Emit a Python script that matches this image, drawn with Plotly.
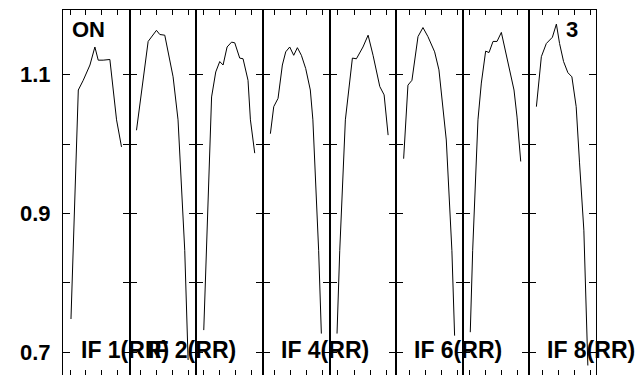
import plotly.graph_objects as go
from plotly.subplots import make_subplots

# channel offsets (tick units) and normalised bandpass per IF
x_if1 = [0.06, 0.52, 0.83, 1.25, 1.56, 1.77, 2.08, 2.5, 2.92, 3.23]
v_if1 = [0.748, 1.078, 1.092, 1.114, 1.140, 1.121, 1.121, 1.122, 1.035, 0.996]

x_if2 = [-0.27, 0.46, 0.98, 1.19, 1.5, 2.02, 2.33, 2.75, 2.96]
v_if2 = [1.020, 1.148, 1.164, 1.158, 1.157, 1.097, 1.035, 0.847, 0.689]

x_if3 = [0.04, 0.53, 0.79, 1.04, 1.25, 1.5, 1.78, 1.98, 2.29, 2.5, 2.81, 2.96, 3.23]
v_if3 = [0.732, 1.068, 1.104, 1.119, 1.114, 1.140, 1.147, 1.146, 1.124, 1.123, 1.092, 1.035, 0.987]

x_if4 = [-0.27, -0.06, 0.21, 0.48, 0.69, 0.94, 1.19, 1.42, 1.67, 1.94, 2.23, 2.39, 2.75, 2.92]
v_if4 = [1.015, 1.054, 1.066, 1.114, 1.133, 1.140, 1.128, 1.139, 1.128, 1.109, 1.078, 1.035, 0.847, 0.727]

x_if5 = [-0.06, 0.11, 0.46, 0.9, 1.15, 1.56, 1.88, 2.19, 2.61, 2.88, 3.13]
v_if5 = [0.727, 0.847, 1.035, 1.124, 1.123, 1.140, 1.157, 1.128, 1.083, 1.071, 1.013]

x_if6 = [-0.38, -0.11, 0.14, 0.52, 0.83, 1.14, 1.56, 1.83, 2.29, 2.5, 2.64, 2.81]
v_if6 = [0.979, 1.085, 1.092, 1.155, 1.168, 1.155, 1.133, 1.107, 1.006, 0.905, 0.847, 0.724]

x_if7 = [0.04, 0.19, 0.52, 0.73, 1.0, 1.21, 1.46, 1.71, 1.98, 2.19, 2.5, 2.77, 2.96, 3.19]
v_if7 = [0.729, 0.847, 1.035, 1.088, 1.134, 1.132, 1.148, 1.148, 1.161, 1.140, 1.109, 1.078, 1.039, 0.975]

x_if8 = [-0.41, -0.1, 0.21, 0.59, 0.84, 1.04, 1.29, 1.56, 1.81, 2.08, 2.29, 2.56, 2.81]
v_if8 = [1.054, 1.126, 1.145, 1.154, 1.173, 1.145, 1.119, 1.103, 1.097, 1.054, 0.973, 0.876, 0.681]

panel_labels = ["IF 1(RR)", "IF 2(RR)", "", "IF 4(RR)", "", "IF 6(RR)", "", "IF 8(RR)"]
y_ticks = [0.7, 0.8, 0.9, 1.0, 1.1]
y_ticktext = ["0.7", "", "0.9", "", "1.1"]

xs = [x_if1, x_if2, x_if3, x_if4, x_if5, x_if6, x_if7, x_if8]
vs = [v_if1, v_if2, v_if3, v_if4, v_if5, v_if6, v_if7, v_if8]
x_ranges = [[-0.44, 3.74], [-0.70, 3.47], [-0.43, 3.74], [-0.74, 3.43],
            [-0.53, 3.63], [-0.85, 3.32], [-0.43, 3.73], [-0.85, 3.32]]

FONT = "Liberation Sans, Arial, sans-serif"

fig = make_subplots(rows=1, cols=8, shared_yaxes=True, horizontal_spacing=0)

for i in range(8):
    fig.add_trace(go.Scatter(x=xs[i], y=vs[i], mode="lines",
                             line=dict(color="black", width=1),
                             showlegend=False, hoverinfo="skip"),
                  row=1, col=i + 1)
    fig.update_xaxes(range=x_ranges[i], tick0=0, dtick=1, ticks="inside",
                     ticklen=5, tickcolor="black", showticklabels=False,
                     showline=True, linecolor="black", linewidth=1,
                     mirror="ticks", showgrid=False, zeroline=False,
                     automargin=False, row=1, col=i + 1)
    fig.update_yaxes(range=[0.6673, 1.1933], tickvals=y_ticks, ticktext=y_ticktext,
                     ticks="inside", ticklen=7, tickcolor="black",
                     showticklabels=(i == 0), showline=True, linecolor="black",
                     linewidth=1, mirror="ticks", showgrid=False, zeroline=False,
                     automargin=False, row=1, col=i + 1)
    if panel_labels[i]:
        fig.add_annotation(text="<b>%s</b>" % panel_labels[i],
                           xref="x%s domain" % ("" if i == 0 else i + 1),
                           yref="y", x=0.24, y=0.704, xanchor="left",
                           yanchor="middle", showarrow=False,
                           font=dict(family=FONT, size=23, color="black"))

fig.add_annotation(text="<b>ON</b>", xref="x domain", yref="y", x=0.105, y=1.165,
                   xanchor="left", yanchor="middle", showarrow=False,
                   font=dict(family=FONT, size=22, color="black"))
fig.add_annotation(text="<b>3</b>", xref="x8 domain", yref="y", x=0.76, y=1.165,
                   xanchor="right", yanchor="middle", showarrow=False,
                   font=dict(family=FONT, size=22, color="black"))

fig.update_yaxes(tickfont=dict(family=FONT, size=22, color="black", weight="bold"),
                 ticklabelstandoff=7, row=1, col=1)

fig.update_layout(width=636, height=375,
                  margin=dict(l=63, r=40, t=10, b=0),
                  paper_bgcolor="white", plot_bgcolor="white")

# drop the browser's default body margin so the figure sits at the page corner
fig.write_html("out.html", config={"displayModeBar": False},
               post_script="document.body.style.margin='0px';")
